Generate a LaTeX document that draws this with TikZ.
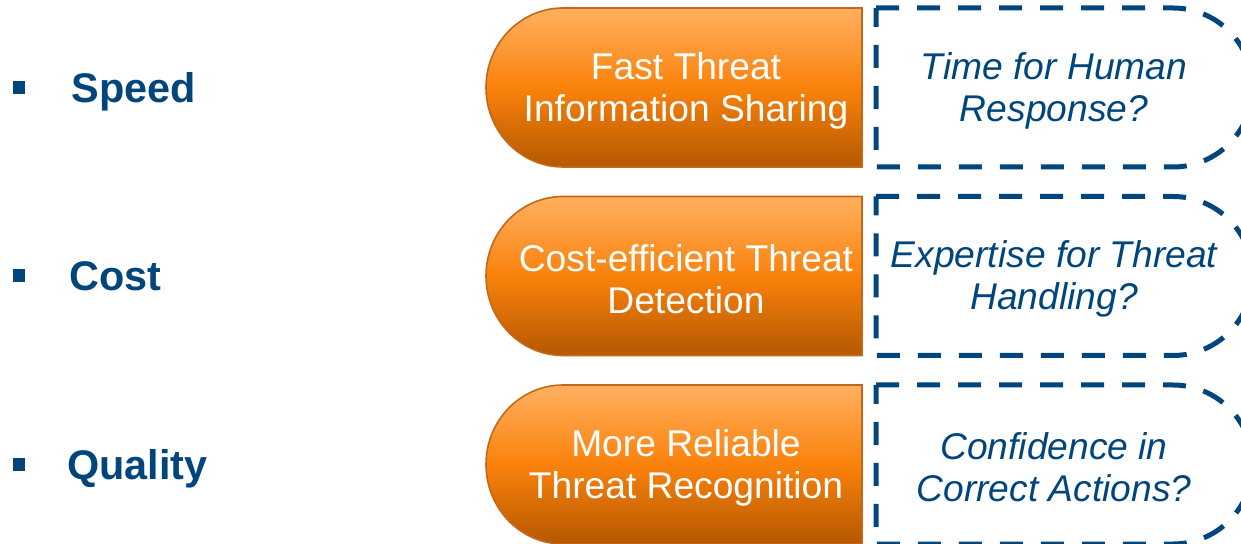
\documentclass[tikz,border=0pt]{standalone}
\usepackage{fontspec}
\setmainfont{Liberation Sans}
\definecolor{navy}{RGB}{0,69,124}
\definecolor{orangetop}{RGB}{255,176,96}
\definecolor{orangemid}{RGB}{250,130,12}
\definecolor{orangebot}{RGB}{180,88,0}
\definecolor{orangeedge}{RGB}{196,104,24}
\begin{document}
\begin{tikzpicture}[x=0.5pt,y=-0.5pt,
  pill/.style={draw=orangeedge, line width=0.8pt,
    top color=orangetop, bottom color=orangebot, middle color=orangemid},
  dashbox/.style={draw=navy, line width=2.5pt, dash pattern=on 11.5pt off 9pt},
  pilltext/.style={text=white, align=center, inner sep=0pt,
    font=\fontsize{18.6}{21}\selectfont},
  asktext/.style={text=navy, align=center, inner sep=0pt,
    font=\fontsize{18.6}{21}\selectfont\itshape},
  topic/.style={text=navy, anchor=base west, inner sep=0pt,
    font=\fontsize{20.7}{24}\selectfont\bfseries},
  bullet/.style={fill=navy, draw=none}]
\useasboundingbox (0,0) rectangle (1241,544);
\clip (0,0) rectangle (1241,544);

% three rows: top edge, label, benefit, open question
\foreach \t/\lab/\lx/\benefit/\ask/\n in {
  8/Speed/71/{Fast Threat\\Information Sharing}/{Time for Human\\Response?}/a,
  196.5/Cost/69/{Cost-efficient Threat\\Detection}/{Expertise for Threat\\Handling?}/b,
  385/Quality/67/{More Reliable\\Threat Recognition}/{Confidence in\\Correct Actions?}/c} {
  \pgfmathsetmacro{\b}{\t+159}
  \pgfmathsetmacro{\m}{\t+79.5}
  % orange benefit shape, rounded on the left
  \path[pill] (862,\t) -- (563,\t)
    arc[start angle=-90, end angle=-270, x radius=77, y radius=79.5]
    -- (862,\b) -- cycle;
  % dashed question shape, rounded on the right
  \path[dashbox] (876,\t) -- (1173,\t)
    arc[start angle=-90, end angle=90, x radius=79.5, y radius=79.5]
    -- (876,\b) -- cycle;
  \node[pilltext] (benefit-\n) at (686,\m+3) {\benefit};
  \node[asktext] (ask-\n) at (1054,\m+3) {\ask};
  % bullet and topic label
  \fill[bullet] (12.5,\m-6.5) rectangle (24.5,\m+6.5);
  \node[topic] (topic-\n) at (\lx,\m+15) {\lab};
}
\end{tikzpicture}
\end{document}
